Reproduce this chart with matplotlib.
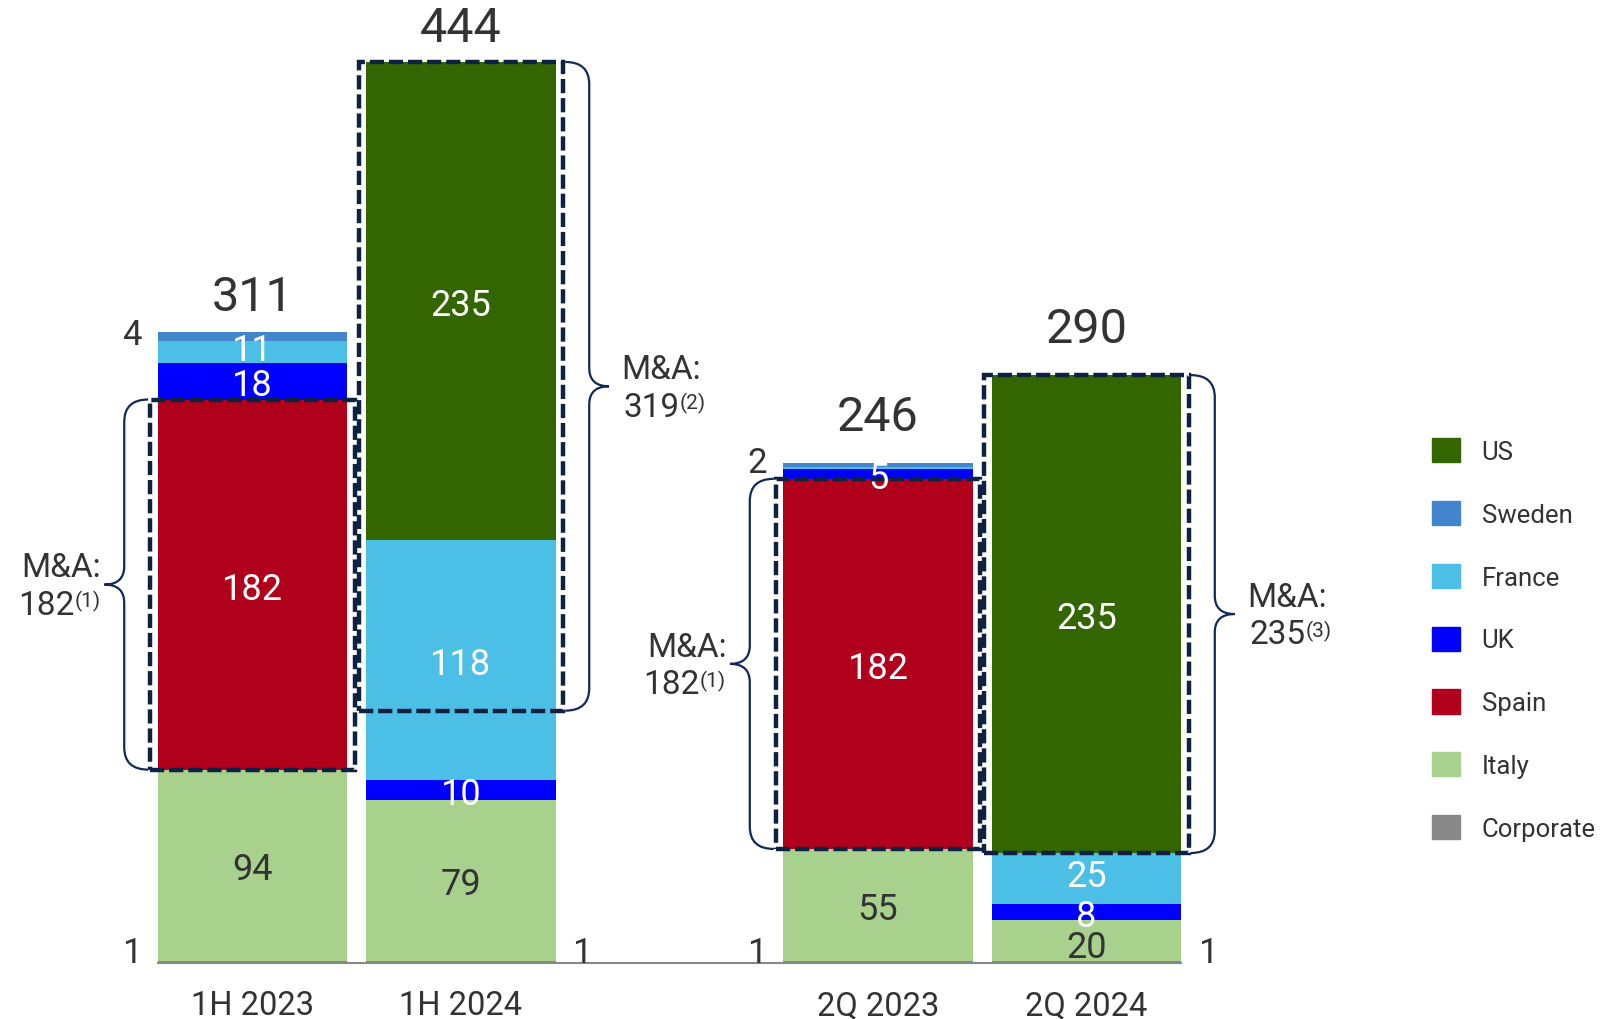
import numpy as np
import matplotlib.pyplot as plt
from matplotlib.patches import Rectangle, Patch, PathPatch
from matplotlib.path import Path

plt.rcParams['font.family'] = ['Roboto', 'DejaVu Sans']

# data, bottom to top of each bar
periods = ['1H 2023', '1H 2024', '2Q 2023', '2Q 2024']
corporate = [1, 1, 1, 1]
italy = [94, 79, 55, 20]
spain = [182, 0, 182, 0]
uk = [18, 10, 5, 8]
france = [11, 118, 1, 25]
sweden = [4, 0, 2, 0]
us = [0, 235, 0, 235]
totals = ['311', '444', '246', '290']
ma_values = [182, 319, 182, 235]
ma_notes = ['(1)', '(2)', '(1)', '(3)']
ma_country = ['Spain', 'US', 'Spain', 'US']

series = [
    ('Corporate', corporate, '#888888'),
    ('Italy', italy, '#a9d18e'),
    ('Spain', spain, '#b0001b'),
    ('UK', uk, '#0000ff'),
    ('France', france, '#4bbfe6'),
    ('Sweden', sweden, '#4285cd'),
    ('US', us, '#336600'),
]

dark = '#333333'
navy = '#0e2141'
navy2 = '#12295a'

x = np.array([0, 1, 3, 4])
side = [-1, 1, -1, 1]       # where the small labels / braces go
total_pad = [20, 19, 25, 25]
bw = 0.907

fig = plt.figure(figsize=(16.04, 10.2), dpi=100)
ax = fig.add_axes([0.0924, 0.0551, 0.650, 0.937])

bottom = np.zeros(4)
seg_top = {}
for name, vals, color in series:
    vals = np.array(vals, dtype=float)
    ax.bar(x, vals, width=bw, bottom=bottom, color=color, linewidth=0, zorder=2)
    for i in range(4):
        v = vals[i]
        if v <= 0:
            continue
        if name == 'Corporate':
            ax.text(x[i] + side[i] * 0.58, bottom[i] + 0.5, f'{v:.0f}', ha='center',
                    va='baseline', fontsize=25, color=dark)
        elif name == 'Sweden':
            ax.text(x[i] - 0.58, bottom[i] + v / 2 + 1, f'{v:.0f}', ha='center',
                    va='center', fontsize=25, color=dark)
        elif v >= 5:
            c = dark if name == 'Italy' else 'white'
            yy = bottom[i] + v / 2
            if name == 'France' and v < 30:
                yy += 3
            if name == 'Italy' and v < 30:
                yy -= 1.5
            ax.text(x[i], yy, f'{v:.0f}', ha='center', va='center_baseline',
                    fontsize=26, color=c, zorder=5)
    bottom = bottom + vals
    seg_top[name] = bottom.copy()

# totals above the bars
for i in range(4):
    ax.text(x[i], bottom[i] + total_pad[i], totals[i], ha='center', va='center_baseline',
            fontsize=35, color=dark)


def brace(xc, s, y0, y1):
    xb = xc + s * 0.50
    xs = xc + s * 0.615
    xt = xc + s * 0.71
    ym = (y0 + y1) / 2
    r, rt = 11, 9
    verts = [(xb, y1), (xs, y1), (xs, y1 - r), (xs, ym + rt), (xs, ym), (xt, ym),
             (xs, ym), (xs, ym - rt), (xs, y0 + r), (xs, y0), (xb, y0)]
    codes = [Path.MOVETO, Path.CURVE3, Path.CURVE3, Path.LINETO, Path.CURVE3, Path.CURVE3,
             Path.CURVE3, Path.CURVE3, Path.LINETO, Path.CURVE3, Path.CURVE3]
    ax.add_patch(PathPatch(Path(verts, codes), fc='none', ec=navy2, lw=1.6,
                           clip_on=False, zorder=4))


# M&A boxes, braces and notes
for i in range(4):
    top = seg_top[ma_country[i]][i]
    low = top - ma_values[i]
    ax.add_patch(Rectangle((x[i] - 0.49, low), 0.98, ma_values[i], fill=False, ec=navy,
                           lw=3.2, ls=(0, (3.2, 1.1)), zorder=4, clip_on=False))
    brace(x[i], side[i], low, top)
    mid = (low + top) / 2
    if side[i] < 0:
        ax.text(x[i] - 0.917, mid + 8.5, 'M&A:', ha='center', va='center',
                fontsize=24, color=dark)
        num = ax.text(x[i] - 0.99, mid - 10, str(ma_values[i]), ha='center',
                      va='center', fontsize=24, color=dark)
    else:
        ax.text(x[i] + 0.77, mid + 8.5, 'M&A:', ha='left', va='center',
                fontsize=24, color=dark)
        num = ax.text(x[i] + 0.78, mid - 10, str(ma_values[i]), ha='left',
                      va='center', fontsize=24, color=dark)
    ax.annotate(ma_notes[i], xy=(1, 1), xycoords=num, xytext=(0, -1),
                textcoords='offset points', ha='left', va='top', fontsize=15, color=dark)

ax.set_xlim(-0.5, 4.5)
ax.set_ylim(0, 470)
ax.set_xticks(x, periods)
ax.set_yticks([])
ax.tick_params(axis='x', length=0, pad=19, labelsize=23.5, labelcolor=dark)
for sp in ['top', 'right', 'left']:
    ax.spines[sp].set_visible(False)
ax.spines['bottom'].set_color('#888888')
ax.spines['bottom'].set_linewidth(1.5)
ax.spines['bottom'].set_bounds(-bw / 2, 4 + bw / 2)

handles = [Patch(color=c, label=n) for n, v, c in series[::-1]]
fig.legend(handles=handles, loc='upper left', bbox_to_anchor=(0.8928, 0.5695),
           frameon=False, fontsize=18.5, handlelength=1.07, handleheight=1.07,
           handletextpad=0.86, labelspacing=1.44, borderpad=0, borderaxespad=0,
           labelcolor=dark)

fig.savefig('out.png', dpi=100)
